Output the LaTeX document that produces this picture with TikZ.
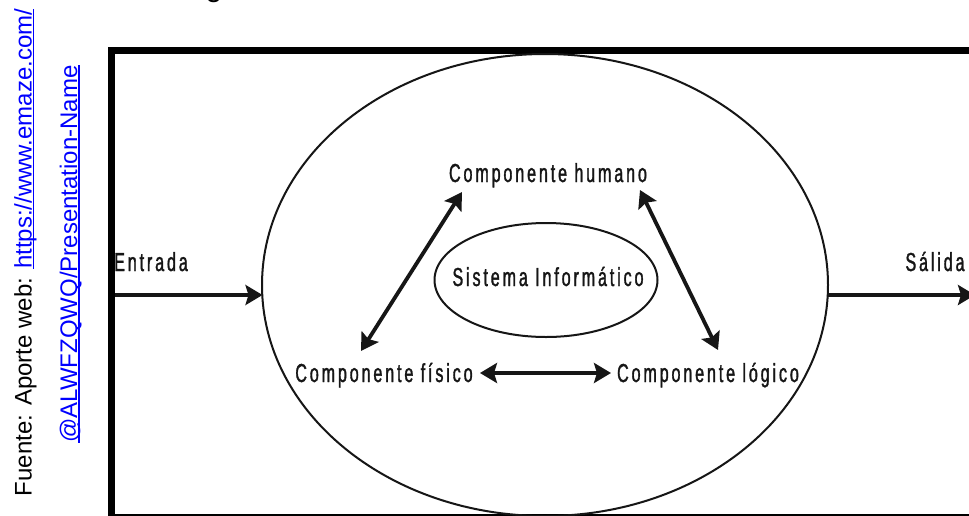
\documentclass[tikz,border=0pt]{standalone}
\usepackage{fontspec}
\setmainfont{Liberation Sans}
% narrow, letter-spaced face for the diagram labels
\newfontfamily\diagfont[FakeStretch=0.62,LetterSpace=11,FakeBold=1.3]{Liberation Sans}
\usetikzlibrary{arrows.meta,shapes.geometric}
\definecolor{linkblue}{RGB}{0,0,255}
\definecolor{ink}{RGB}{22,22,22}
% underlined text with a rule at a fixed depth
\newcommand\linkul[1]{\setbox0\hbox{#1}\rlap{\rule[-2.6pt]{\wd0}{1.5pt}}\box0}

\tikzset{
  lbl/.style={font=\diagfont\fontsize{26}{30}\selectfont, text=ink, inner sep=0pt, anchor=base},
  src/.style={font=\fontsize{24}{28}\selectfont, inner sep=0pt, anchor=base, rotate=90},
  flow/.style={line width=4.2pt, draw=ink, -{Stealth[length=17pt,width=20pt,inset=3pt]}},
  link/.style={line width=3.8pt, draw=ink,
    {Stealth[length=17pt,width=20pt,inset=3pt]}-{Stealth[length=17pt,width=20pt,inset=3pt]}},
  oval/.style={draw=ink, line width=2pt, ellipse, inner sep=0pt}
}

\begin{document}
\begin{tikzpicture}[x=1pt,y=-1pt]
\useasboundingbox (0,0) rectangle (969,515);
\fill[white] (0,0) rectangle (969,515);

% heading glyph cut off by the top edge: only its tail shows
\begin{scope}
\clip (0,0) rectangle (969,515);
\node[font=\fontsize{30}{34}\selectfont, inner sep=0pt, anchor=south] (head) at (214,3) {g};
\end{scope}

% source note, set vertically
\node[src] (src1) at (31.5,252.5) {Fuente: Aporte web: \textcolor{linkblue}{\linkul{https://www.emaze.com/}}};
\node[src, text=linkblue] (src2) at (77,254) {\linkul{@ALWFZQWQ/Presentation-Name}};

% frame
\draw[line width=7pt, draw=black] (111.5,50.5) rectangle (990,517.5);

% system boundary and core
\node[oval, minimum width=566pt, minimum height=462pt] (sys) at (545,285) {};
\node[oval, minimum width=223pt, minimum height=114pt] (core) at (546,280) {};
\node[lbl] (coretxt) at (548,286) {Sistema Informático};

% components
\node[lbl] (human) at (548,182) {Componente humano};
\node[lbl] (phys) at (384,382) {Componente físico};
\node[lbl] (logic) at (708,382) {Componente lógico};

% input / output labels
\node[lbl] (inlbl) at (151,271) {Entrada};
\node[lbl] (outlbl) at (935,271) {Sálida};

% connector end points
\coordinate (inA) at (115,295);
\coordinate (inB) at (262.5,295);
\coordinate (outA) at (827.5,295);
\coordinate (outB) at (975,295);
\coordinate (hL) at (462,192);
\coordinate (fT) at (361,351);
\coordinate (hR) at (640,190);
\coordinate (lT) at (718,350);
\coordinate (fR) at (480,373);
\coordinate (lL) at (611,373);

\draw[flow] (inA) -- (inB);
\draw[flow] (outA) -- (outB);
\draw[link] (fT) -- (hL);
\draw[link] (hR) -- (lT);
\draw[link] (fR) -- (lL);
\end{tikzpicture}
\end{document}
